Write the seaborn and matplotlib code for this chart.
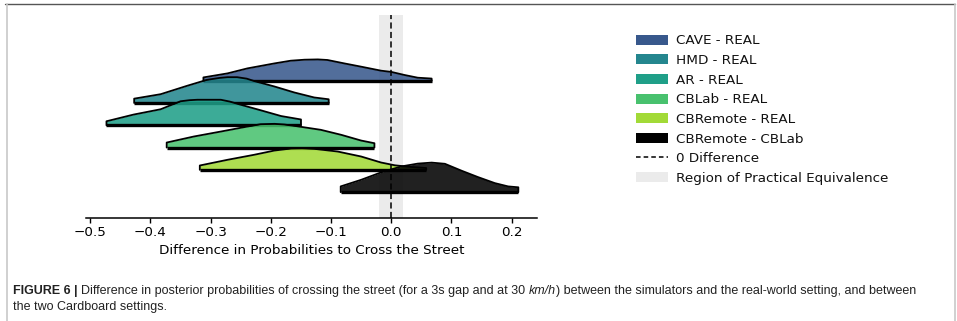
import matplotlib
matplotlib.use("Agg")
import numpy as np
import pandas as pd
import matplotlib.pyplot as plt
from matplotlib.patches import Patch
from matplotlib.lines import Line2D
from matplotlib.transforms import IdentityTransform
from matplotlib import font_manager
import seaborn as sns

# ---------------------------------------------------------------- data
comparisons = ["CAVE - REAL", "HMD - REAL", "AR - REAL",
               "CBLab - REAL", "CBRemote - REAL", "CBRemote - CBLab"]

# posterior density of each difference, sampled along its support
cave_x = [-0.312, -0.272, -0.239, -0.194, -0.167, -0.144, -0.122, -0.106,
          -0.078, -0.050, -0.017, 0.000, 0.022, 0.044, 0.067]
cave_d = [0.69, 1.54, 2.59, 3.64, 4.21, 4.42, 4.48, 4.36, 3.64,
          2.95, 2.11, 1.85, 1.20, 0.63, 0.45]

hmd_x = [-0.427, -0.383, -0.339, -0.306, -0.285, -0.272, -0.256, -0.240,
         -0.228, -0.194, -0.161, -0.128, -0.104]
hmd_d = [0.91, 1.85, 3.62, 4.88, 5.28, 5.43, 5.43, 5.12, 4.63, 3.47, 2.21,
         1.16, 0.78]

ar_x = [-0.473, -0.428, -0.383, -0.350, -0.335, -0.322, -0.283, -0.268,
        -0.250, -0.217, -0.183, -0.150]
ar_d = [0.84, 2.25, 3.37, 5.05, 5.28, 5.37, 5.37, 4.98, 4.32, 3.16, 1.94,
        1.22]

cblab_x = [-0.373, -0.328, -0.283, -0.239, -0.217, -0.194, -0.178, -0.161,
           -0.117, -0.083, -0.050, -0.028]
cblab_d = [1.05, 2.32, 3.37, 4.42, 4.91, 4.99, 4.85, 4.57, 3.73, 2.67, 1.47,
           0.91]

cbremote_x = [-0.318, -0.272, -0.228, -0.194, -0.167, -0.148, -0.128,
              -0.089, -0.050, -0.017, 0.006, 0.030, 0.058]
cbremote_d = [0.91, 2.11, 3.16, 4.06, 4.48, 4.52, 4.42, 3.85, 2.80, 1.54,
              0.95, 0.63, 0.38]

cbdiff_x = [-0.084, -0.050, -0.017, 0.017, 0.044, 0.067, 0.089, 0.117,
            0.144, 0.172, 0.194, 0.211]
cbdiff_d = [1.20, 2.59, 4.15, 5.41, 6.00, 6.21, 5.96, 4.49, 3.16, 1.89,
            1.20, 1.01]

rope_low, rope_high = -0.02, 0.02
x_ticks = [-0.5, -0.4, -0.3, -0.2, -0.1, 0.0, 0.1, 0.2]

# (text, weight, style, space after)
caption_runs_1 = [("FIGURE 6", "bold", "normal", True),
                  ("|", "bold", "normal", True),
                  ("Difference in posterior probabilities of crossing the street "
                   "(for a 3s gap and at 30", "normal", "normal", True),
                  ("km/h", "normal", "italic", False),
                  (") between the simulators and the real-world setting, and between",
                   "normal", "normal", False)]
caption_line_2 = "the two Cardboard settings."

# ---------------------------------------------------------------- frame
sns.set_theme(style="white")
plt.rcParams["font.family"] = ["DejaVu Sans"]

FS = 9.7
W, H = 957, 321
fig = plt.figure(figsize=(W / 100, H / 100), dpi=100)
ax = fig.add_axes([86 / W, 1 - 218 / H, 451 / W, 203 / H])

palette = [plt.cm.viridis(v) for v in (0.27, 0.46, 0.56, 0.71, 0.86)] + ["#000000"]

series = [(cave_x, cave_d), (hmd_x, hmd_d), (ar_x, ar_d),
          (cblab_x, cblab_d), (cbremote_x, cbremote_d), (cbdiff_x, cbdiff_d)]

step = 4.69  # vertical distance between ridge baselines (density units)
frames = []
for i, (name, (xs, ds)) in enumerate(zip(comparisons, series)):
    base = -i * step
    df = pd.DataFrame({"x": xs, "d": ds})
    df["y"] = df["d"] + base
    df["comparison"] = name
    df["base"] = base
    frames.append(df)
ridges = pd.concat(frames, ignore_index=True)

ax.axvspan(rope_low, rope_high, color="#ebebeb", zorder=0, lw=0)

for i, (name, grp) in enumerate(ridges.groupby("comparison", sort=False)):
    base = grp["base"].iloc[0]
    z = 10 + 3 * i
    ax.fill_between(grp["x"], base, grp["y"], color=palette[i], alpha=0.87,
                    lw=0, zorder=z)
    # outline including the vertical ends down to the baseline
    outline = pd.concat([
        pd.DataFrame({"x": [grp["x"].iloc[0]], "y": [base]}),
        grp[["x", "y"]],
        pd.DataFrame({"x": [grp["x"].iloc[-1]], "y": [base]}),
    ], ignore_index=True)
    sns.lineplot(data=outline, x="x", y="y", sort=False, estimator=None,
                 color="black", lw=1.3, ax=ax, zorder=z + 1)
    sns.lineplot(x=[grp["x"].iloc[0], grp["x"].iloc[-1]], y=[base, base],
                 color="black", lw=2.4, ax=ax, zorder=z + 2,
                 solid_capstyle="butt")

ax.axvline(0, color="black", ls="--", lw=1.1, dashes=(4, 2.2), zorder=100)

ax.set_ylim(-28.9, 13.83)
ax.set_xlim(-0.507, 0.242)
ax.set_xticks(x_ticks)
ax.set_xticklabels([f"{t:.1f}".replace("-", "\u2212") for t in x_ticks])
ax.set_yticks([])
ax.set_ylabel("")
ax.set_xlabel("Difference in Probabilities to Cross the Street", fontsize=FS,
              labelpad=3.5, color="black")
for s in ("left", "top", "right"):
    ax.spines[s].set_visible(False)
ax.spines["bottom"].set_color("black")
ax.spines["bottom"].set_linewidth(1.1)
ax.tick_params(axis="x", which="major", direction="out", length=3.5,
               width=1.0, color="black", labelsize=FS, pad=2,
               labelcolor="black", bottom=True)
ax.patch.set_alpha(0)

handles = [Patch(facecolor=c, edgecolor="none") for c in palette]
handles.append(Line2D([], [], color="black", ls="--", lw=1.1, dashes=(3, 2)))
handles.append(Patch(facecolor="#ebebeb", edgecolor="none"))
labels = comparisons + ["0 Difference", "Region of Practical Equivalence"]
fig.legend(handles, labels, loc="upper left",
           bbox_to_anchor=(636 / W, 1 - 34.5 / H), frameon=False, fontsize=FS,
           borderpad=0, borderaxespad=0, handlelength=2.4, handleheight=0.75,
           handletextpad=0.6, labelspacing=0.49, labelcolor="#111111")

# ---------------------------------------------------------------- page frame
fig.add_artist(Line2D([5 / W, 955 / W], [1 - 3.5 / H, 1 - 3.5 / H],
                      transform=fig.transFigure, color="#555555", lw=1.0))
for xp in (6.5, 954.5):
    fig.add_artist(Line2D([xp / W, xp / W], [0, 1 - 3.5 / H],
                          transform=fig.transFigure, color="#c8c8c8", lw=1.2))

# ---------------------------------------------------------------- caption
available = {f.name for f in font_manager.fontManager.ttflist}
cap_family = next(f for f in ["Liberation Sans Narrow", "Liberation Sans",
                              "DejaVu Sans"] if f in available)
renderer = fig.canvas.get_renderer()


def lay_runs(size, x0, y0):
    texts = []
    x = x0
    space = fig.text(0, 0, "a a", fontsize=size, family=cap_family,
                     transform=IdentityTransform())
    aa = fig.text(0, 0, "aa", fontsize=size, family=cap_family,
                  transform=IdentityTransform())
    sp = (space.get_window_extent(renderer).width
          - aa.get_window_extent(renderer).width)
    space.remove()
    aa.remove()
    for txt, weight, style, space_after in caption_runs_1:
        t = fig.text(x, y0, txt, fontsize=size, family=cap_family,
                     weight=weight, style=style, va="baseline", ha="left",
                     transform=IdentityTransform(), color="#222222")
        texts.append(t)
        x += t.get_window_extent(renderer).width + (sp if space_after else 0)
    return texts, x - x0


texts, width = lay_runs(8, 13, H - 294)
for t in texts:
    t.remove()
size = 8 * 903 / width
texts, width = lay_runs(size, 13, H - 294)
fig.text(13, H - 310, caption_line_2, fontsize=size, family=cap_family,
         va="baseline", ha="left", transform=IdentityTransform(),
         color="#222222")

fig.savefig("out.png", dpi=100)
